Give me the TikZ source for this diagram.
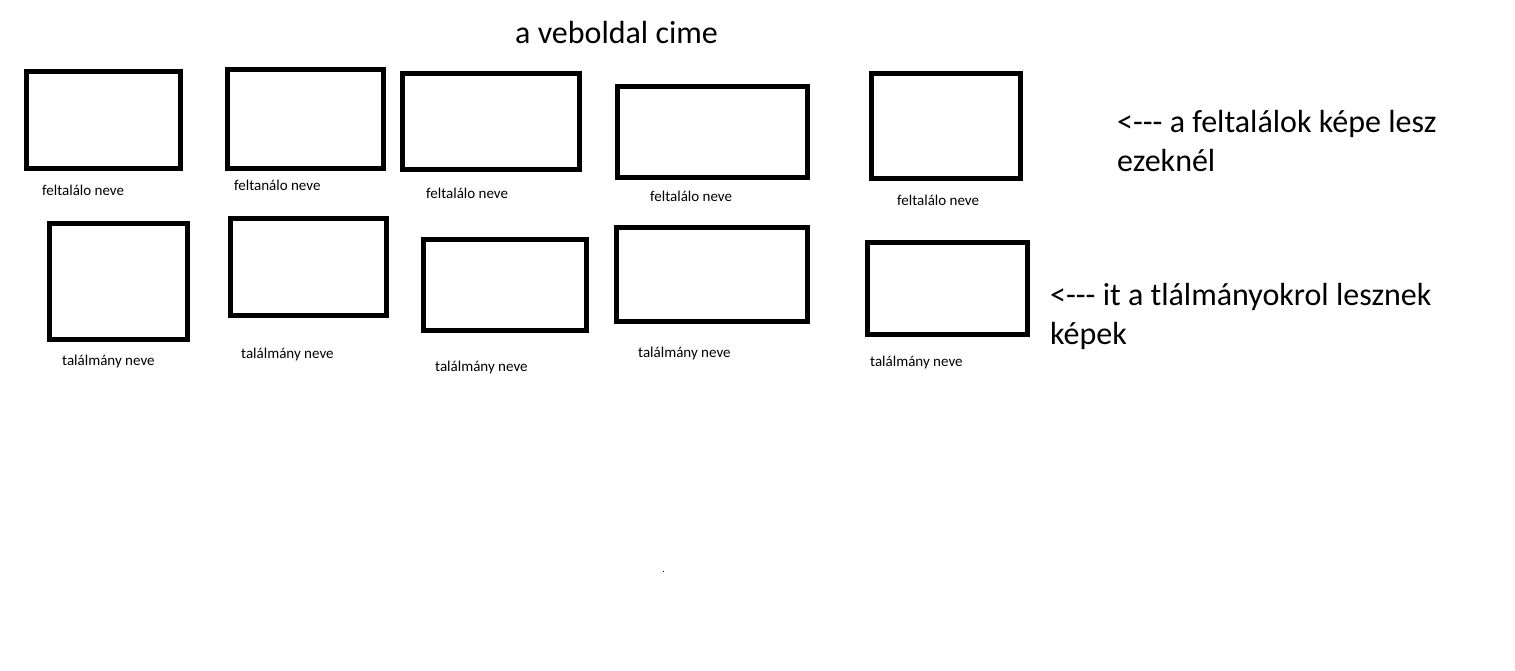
\documentclass[tikz,border=0pt]{standalone}
\usepackage{fontspec}
\setmainfont{Carlito}
\begin{document}
\begin{tikzpicture}[x=1pt,y=-1pt,
  imgbox/.style={draw=black,line width=5pt,fill=white,inner sep=0pt,minimum width=#1},
  small/.style={anchor=base west,inner sep=0pt,font=\fontsize{15}{18}\selectfont},
  big/.style={anchor=base west,inner sep=0pt,font=\fontsize{32}{38}\selectfont}]
\path[fill=white] (0,0) rectangle (1515,671);
\useasboundingbox (0,0) rectangle (1515,671);
\node[big] (title) at (515,44) {a veboldal cime};
% row 1
\node[imgbox=154pt,minimum height=97pt] (b1) at (103.5,120) {};
\node[imgbox=156pt,minimum height=99pt] (b2) at (305.5,119) {};
\node[imgbox=177pt,minimum height=96pt] (b3) at (491,121.5) {};
\node[imgbox=190pt,minimum height=91pt] (b4) at (712.5,132) {};
\node[imgbox=149pt,minimum height=105pt] (b5) at (946,126) {};
\node[small] (l1) at (42,196) {feltalálo neve};
\node[small] (l2) at (234,191) {feltanálo neve};
\node[small] (l3) at (426,199) {feltalálo neve};
\node[small] (l4) at (650,202) {feltalálo neve};
\node[small] (l5) at (897,206) {feltalálo neve};
% row 2
\node[imgbox=138pt,minimum height=116pt] (b6) at (118.5,281.5) {};
\node[imgbox=156pt,minimum height=97pt] (b7) at (308.5,267) {};
\node[imgbox=163pt,minimum height=91pt] (b8) at (505,285) {};
\node[imgbox=191pt,minimum height=94pt] (b9) at (712,274.5) {};
\node[imgbox=160pt,minimum height=92pt] (b10) at (947.5,288.5) {};
\node[small] (m1) at (62,365) {találmány neve};
\node[small] (m2) at (241,358) {találmány neve};
\node[small] (m3) at (435,371) {találmány neve};
\node[small] (m4) at (638,357) {találmány neve};
\node[small] (m5) at (870,366) {találmány neve};
% annotations
\node[big] (n1a) at (1117,133) {<-{}-{}- a feltalálok képe lesz};
\node[big] (n1b) at (1117,172) {ezeknél};
\node[big] (n2a) at (1050,305) {<-{}-{}- it a tlálmányokrol lesznek};
\node[big] (n2b) at (1050,344) {képek};
% stray dot
\fill[black] (662.5,570.5) rectangle (664,572);
\end{tikzpicture}
\end{document}
